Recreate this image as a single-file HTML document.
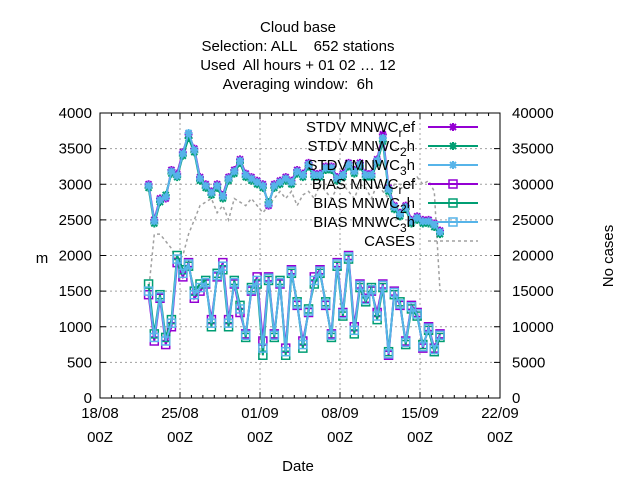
<!DOCTYPE html>
<html><head><meta charset="utf-8"><style>body{margin:0;background:#fff}svg{font-family:"Liberation Sans",sans-serif}text{white-space:pre}</style></head>
<body>
<svg id="c" width="640" height="480" xmlns="http://www.w3.org/2000/svg">
<g font-size="15" text-anchor="middle" fill="#000">
<text x="298" y="32">Cloud base</text>
<text x="298" y="51">Selection: ALL    652 stations</text>
<text x="298" y="70">Used  All hours + 01 02 … 12</text>
<text x="298" y="89">Averaging window:  6h</text>
</g>
<g id="grid"></g>
<g id="axes"></g>
<g id="series"></g>
<rect x="100" y="113" width="400" height="285" fill="none" stroke="#000"/>
<text x="42" y="263" font-size="15" text-anchor="middle">m</text>
<text x="613" y="256" font-size="15" text-anchor="middle" transform="rotate(-90 613 256)">No cases</text>
<text x="298" y="471" font-size="15" text-anchor="middle">Date</text>
<g id="legend" font-size="15"></g>
</svg>
<script>
const xTickLabels=[["18/08","00Z"],["25/08","00Z"],["01/09","00Z"],["08/09","00Z"],["15/09","00Z"],["22/09","00Z"]];
const yTicks=[0,500,1000,1500,2000,2500,3000,3500,4000];
const y2Ticks=[0,5000,10000,15000,20000,25000,30000,35000,40000];
const startDay=4.25, stepDay=0.5;
const stdvRef=[3000,2500,2800,2800,3200,3150,3450,3700,3500,3100,3000,2900,3000,2850,3100,3200,3350,3150,3100,3050,3000,2700,3000,3050,3100,3050,3200,3150,3300,3150,3150,3250,3250,3100,3150,3300,3200,3300,3150,3150,3350,3700,2950,2700,2600,2700,2500,2550,2500,2500,2450,2350];
const stdv2=[2950,2450,2750,2850,3150,3100,3400,3650,3450,3050,2950,2850,2950,2800,3050,3150,3300,3100,3050,3000,2950,2750,2950,3000,3050,3000,3150,3100,3250,3100,3100,3200,3200,3050,3100,3250,3150,3250,3100,3100,3300,3600,2900,2650,2550,2650,2450,2500,2450,2450,2400,2300];
const stdv3=[2980,2480,2780,2820,3180,3120,3430,3720,3480,3080,2980,2880,2980,2830,3080,3180,3330,3130,3080,3030,2980,2720,2980,3030,3080,3030,3180,3130,3280,3130,3130,3230,3230,3080,3130,3280,3180,3280,3130,3130,3330,3650,2930,2680,2580,2680,2480,2530,2480,2480,2430,2330];
const biasRef=[1450,800,1400,750,1000,1900,1700,1900,1400,1500,1600,1100,1700,1900,1100,1600,1200,900,1500,1700,800,1700,900,1600,700,1800,1300,800,1200,1700,1800,1300,900,1900,1200,2000,1000,1600,1400,1500,1200,1600,600,1500,1300,800,1300,1200,700,1000,700,900];
const bias2=[1600,900,1450,850,1100,2000,1800,1850,1500,1600,1650,1000,1750,1800,1000,1650,1300,850,1550,1600,600,1650,850,1650,600,1750,1350,700,1250,1600,1750,1350,850,1850,1150,1950,900,1550,1350,1550,1100,1550,650,1450,1350,750,1250,1150,750,950,650,850];
const bias3=[1500,850,1420,800,1050,1950,1750,1880,1450,1550,1620,1050,1720,1850,1050,1620,1250,880,1520,1650,700,1680,880,1620,650,1780,1320,750,1220,1650,1780,1320,880,1880,1180,1980,950,1580,1380,1520,1150,1580,620,1480,1320,780,1280,1180,720,980,680,880];
const cases=[15000,23000,23000,22000,21000,19000,20000,23000,25000,27000,27500,28000,26000,27000,25000,28000,27500,27000,28000,27000,26000,27000,28000,29000,28000,29000,27000,28500,29000,28000,30000,29000,28000,29500,30000,29000,28000,30000,29500,28000,30000,29000,28000,30000,30000,29500,30000,31000,30000,30500,29000,15000];
const NS="http://www.w3.org/2000/svg";
const X=d=>100+d*400/35, Y=v=>398-v*285/4000, Y2=v=>398-v*285/40000;
function mk(t,a,p){const e=document.createElementNS(NS,t);for(const k in a)e.setAttribute(k,a[k]);p.appendChild(e);return e;}
const grid=document.getElementById('grid'),axes=document.getElementById('axes'),ser=document.getElementById('series'),leg=document.getElementById('legend');
yTicks.forEach((v,i)=>{const y=Y(v);
 if(i>0&&i<yTicks.length-1){const g=mk('line',{x1:100,x2:500,y1:y,y2:y,stroke:'#a0a0a0','stroke-dasharray':'2,3'},grid);}
 const t=mk('text',{x:92,y:y+5,'font-size':15,'text-anchor':'end'},axes);t.textContent=v;
 mk('line',{x1:100,x2:106,y1:y,y2:y,stroke:'#000'},axes);});
y2Ticks.forEach(v=>{const y=Y2(v);const t=mk('text',{x:512,y:y+5,'font-size':15},axes);t.textContent=v;mk('line',{x1:494,x2:500,y1:y,y2:y,stroke:'#000'},axes);});
xTickLabels.forEach((l,i)=>{const x=X(i*7);
 if(i>0&&i<xTickLabels.length-1){const g=mk('line',{x1:x,x2:x,y1:113,y2:398,stroke:'#a0a0a0','stroke-dasharray':'2,3'},grid);}
 const t=mk('text',{x:x,y:418,'font-size':15,'text-anchor':'middle'},axes);t.textContent=l[0];
 const t2=mk('text',{x:x,y:442,'font-size':15,'text-anchor':'middle'},axes);t2.textContent=l[1];
 mk('line',{x1:x,x2:x,y1:398,y2:392,stroke:'#000'},axes);mk('line',{x1:x,x2:x,y1:113,y2:119,stroke:'#000'},axes);
 for(let d=1;d<7&&i<5;d++){const xm=X(i*7+d);mk('line',{x1:xm,x2:xm,y1:398,y2:395,stroke:'#000'},axes);mk('line',{x1:xm,x2:xm,y1:113,y2:116,stroke:'#000'},axes);}});
function star(g,x,y,c){mk('path',{d:`M${x-4},${y}h8M${x},${y-4}v8M${x-3},${y-3}l6,6M${x-3},${y+3}l6,-6`,stroke:c,'stroke-width':2,fill:'none'},g);}
function sq(g,x,y,c){mk('rect',{x:x-4,y:y-4,width:8,height:8,stroke:c,'stroke-width':1.5,fill:'none'},g);}
function draw(arr,yf,c,name,mark,dash){const g=mk('g',{},ser);
 const pts=arr.map((v,i)=>[X(startDay+i*stepDay),yf(v)]);
 const p=mk('polyline',{points:pts.map(q=>q.join(',')).join(' '),fill:'none',stroke:c,'stroke-width':2},g);if(dash){p.setAttribute('stroke-dasharray',dash);p.setAttribute('stroke-width',1.5);}
 if(mark)pts.forEach(q=>mark(g,q[0],q[1],c));}
draw(cases,Y2,'#a0a0a0','series-cases',null,'3,3');
draw(biasRef,Y,'#9400d3','series-bias-ref',sq);
draw(bias2,Y,'#009e73','series-bias-2h',sq);
draw(bias3,Y,'#56b4e9','series-bias-3h',sq);
draw(stdvRef,Y,'#9400d3','series-stdv-ref',star);
draw(stdv2,Y,'#009e73','series-stdv-2h',star);
draw(stdv3,Y,'#56b4e9','series-stdv-3h',star);
const legItems=[["STDV MNWC","r","ef",'#9400d3',star],["STDV MNWC","2","h",'#009e73',star],["STDV MNWC","3","h",'#56b4e9',star],["BIAS MNWC","r","ef",'#9400d3',sq],["BIAS MNWC","2","h",'#009e73',sq],["BIAS MNWC","3","h",'#56b4e9',sq],["CASES","","",'#a0a0a0',null]];
legItems.forEach((it,i)=>{const y=127+i*19;const g=mk('g',{},leg);
 const t=mk('text',{x:415,y:y+5,'text-anchor':'end'},g);t.appendChild(document.createTextNode(it[0]));
 if(it[1]){const s=mk('tspan',{dy:5,'font-size':12},t);s.textContent=it[1];const s2=mk('tspan',{dy:-5},t);s2.textContent=it[2];}
 const l=mk('line',{x1:428,x2:478,y1:y,y2:y,stroke:it[3],'stroke-width':2},g);if(!it[4]){l.setAttribute('stroke-dasharray','3,3');l.setAttribute('stroke-width',1.5);}
 if(it[4])it[4](g,453,y,it[3]);});
</script>
</body></html>
